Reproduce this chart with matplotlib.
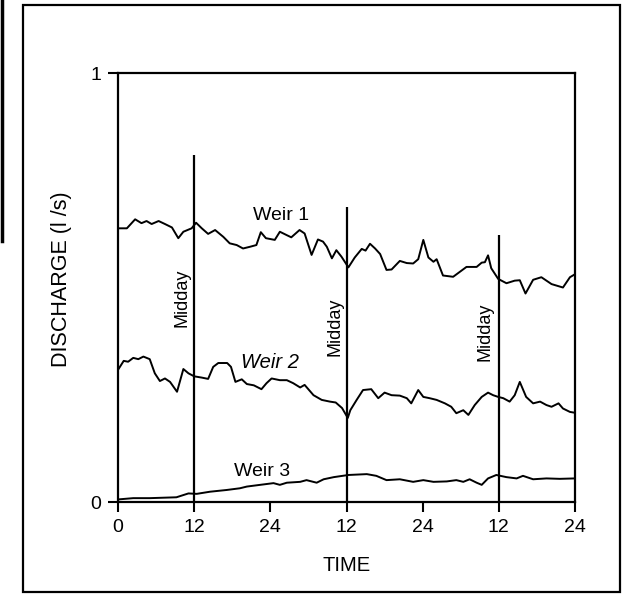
import matplotlib.pyplot as plt
from matplotlib.patches import Rectangle
from matplotlib.lines import Line2D

plt.rcParams['font.family'] = ['Liberation Sans', 'DejaVu Sans']

# hours from start (three days, labelled 0,12,24,12,24,12,24)
t1 = [0, 1.4, 2.7, 3.7, 4.5, 5.3, 6.4, 7.4, 8.5, 9.5, 10.3, 11.6, 12.3, 13.2, 14.2,
      15.3, 16.6, 17.6, 18.7, 19.7, 20.8, 21.8, 22.5, 23.3, 24.7, 25.5, 26.6, 27.3,
      28.6, 29.4, 30.5, 31.5, 32.3, 32.9, 33.7, 34.4, 35.2, 36.3, 37.3, 38.4, 39.0,
      39.7, 40.5, 41.3, 42.3, 43.1, 44.4, 45.5, 46.5, 47.3, 48.1, 48.9, 49.7, 50.2,
      51.2, 52.8, 54.9, 56.5, 57.3, 57.8, 58.3, 58.8, 59.9, 61.2, 62.5, 63.3, 64.2,
      65.4, 66.7, 68.3, 70.1, 71.2, 72]
weir1 = [0.638, 0.638, 0.659, 0.650, 0.655, 0.648, 0.655, 0.648, 0.640, 0.615, 0.630,
         0.638, 0.651, 0.638, 0.625, 0.634, 0.618, 0.603, 0.599, 0.591, 0.595, 0.599,
         0.629, 0.615, 0.611, 0.630, 0.622, 0.617, 0.634, 0.626, 0.576, 0.612, 0.607,
         0.595, 0.568, 0.587, 0.572, 0.547, 0.570, 0.590, 0.586, 0.602, 0.591, 0.578,
         0.541, 0.542, 0.562, 0.557, 0.556, 0.566, 0.611, 0.570, 0.560, 0.566, 0.528,
         0.525, 0.548, 0.548, 0.558, 0.559, 0.575, 0.545, 0.520, 0.510, 0.516, 0.517,
         0.486, 0.518, 0.524, 0.508, 0.500, 0.524, 0.531]

t2 = [0, 0.9, 1.6, 2.4, 3.2, 4.0, 5.0, 5.8, 6.6, 7.4, 8.2, 9.3, 10.3, 11.1, 12.0,
      13.2, 14.2, 15.0, 15.8, 17.2, 17.8, 18.5, 19.5, 20.3, 21.4, 22.6, 23.4, 24.2,
      25.5, 26.6, 27.6, 28.7, 29.4, 30.8, 32.1, 33.4, 34.3, 35.3, 36.2, 36.6, 37.6,
      38.6, 39.9, 41.0, 42.0, 43.1, 44.4, 45.5, 46.2, 47.3, 48.1, 49.1, 50.2, 51.5,
      52.5, 53.3, 54.4, 55.2, 56.2, 57.3, 58.3, 59.1, 59.9, 60.7, 61.7, 62.5, 63.3,
      64.3, 65.4, 66.5, 67.5, 68.3, 69.4, 70.1, 71.2, 72]
weir2 = [0.308, 0.329, 0.327, 0.336, 0.333, 0.339, 0.333, 0.300, 0.282, 0.288, 0.280,
         0.257, 0.310, 0.300, 0.293, 0.290, 0.287, 0.315, 0.324, 0.324, 0.315, 0.280,
         0.286, 0.275, 0.272, 0.263, 0.277, 0.288, 0.284, 0.284, 0.277, 0.267, 0.273,
         0.249, 0.238, 0.234, 0.232, 0.219, 0.196, 0.214, 0.238, 0.261, 0.263, 0.242,
         0.255, 0.249, 0.248, 0.242, 0.230, 0.261, 0.245, 0.242, 0.238, 0.230, 0.222,
         0.207, 0.214, 0.203, 0.226, 0.245, 0.255, 0.249, 0.245, 0.242, 0.234, 0.249,
         0.280, 0.245, 0.230, 0.234, 0.226, 0.222, 0.230, 0.218, 0.210, 0.208]

t3 = [0, 2.4, 5.0, 9.2, 11.1, 12.4, 14.5, 17.1, 19.2, 20.3, 22.4, 24.5, 25.5, 26.6,
      28.7, 29.7, 31.3, 32.4, 34.0, 36.3, 39.2, 40.7, 42.3, 44.4, 46.5, 48.1, 49.7,
      51.8, 53.3, 54.4, 55.4, 56.5, 57.3, 58.3, 59.6, 61.2, 62.8, 63.8, 65.4, 67.5,
      69.6, 72]
weir3 = [0.006, 0.009, 0.009, 0.011, 0.020, 0.019, 0.024, 0.028, 0.032, 0.036, 0.040,
         0.044, 0.040, 0.045, 0.047, 0.051, 0.045, 0.053, 0.058, 0.063, 0.065, 0.061,
         0.051, 0.053, 0.047, 0.051, 0.047, 0.048, 0.051, 0.047, 0.053, 0.045, 0.040,
         0.055, 0.063, 0.058, 0.055, 0.061, 0.053, 0.055, 0.054, 0.055]

midday_t = [12, 36, 60]
midday_top = [0.809, 0.688, 0.622]
xticks = [0, 12, 24, 36, 48, 60, 72]
xtick_labels = ['0', '12', '24', '12', '24', '12', '24']

fig = plt.figure(figsize=(6.33, 6.02), dpi=100)
ax = fig.add_axes([0.1864, 0.1661, 0.722, 0.7126])

ax.plot(t1, weir1, color='black', lw=1.4)
ax.plot(t2, weir2, color='black', lw=1.4)
ax.plot(t3, weir3, color='black', lw=1.4)

for t, top in zip(midday_t, midday_top):
    ax.vlines(t, 0, top, color='black', lw=1.6)

ax.text(10.1, 0.476, 'Midday', rotation=90, ha='center', va='center', fontsize=13)
ax.text(34.2, 0.408, 'Midday', rotation=90, ha='center', va='center', fontsize=13)
ax.text(57.8, 0.396, 'Midday', rotation=90, ha='center', va='center', fontsize=13)

ax.text(25.7, 0.667, 'Weir 1', ha='center', va='center', fontsize=14)
ax.text(23.9, 0.326, 'Weir 2', ha='center', va='center', fontsize=14.5, style='italic')
ax.text(22.7, 0.072, 'Weir 3', ha='center', va='center', fontsize=14)

ax.set_xlim(0, 72)
ax.set_ylim(0, 1)
ax.set_xticks(xticks)
ax.set_xticklabels(xtick_labels)
ax.set_yticks([0, 1])
ax.set_yticklabels(['0', '1'])
ax.tick_params(direction='out', length=7, width=1.5, labelsize=14, pad=5)

for s in ax.spines.values():
    s.set_linewidth(1.6)

ax.set_xlabel('TIME', fontsize=14.5)
ax.xaxis.set_label_coords(0.5, -0.147)
ax.xaxis.label.set_va('center')
ax.set_ylabel('DISCHARGE (l /s)', fontsize=15.5)
ax.yaxis.set_label_coords(-0.123, 0.52)
ax.yaxis.label.set_va('center')

# outer frame of the figure panel and the scan edge on the left
fig.patches.append(Rectangle((0.0363, 0.0166), 0.943, 0.975, transform=fig.transFigure,
                             fill=False, edgecolor='black', lw=1.6))
fig.lines.append(Line2D([0.003, 0.003], [0.6, 1.0], transform=fig.transFigure,
                        color='black', lw=2.5))

fig.savefig('out.png', dpi=100)
